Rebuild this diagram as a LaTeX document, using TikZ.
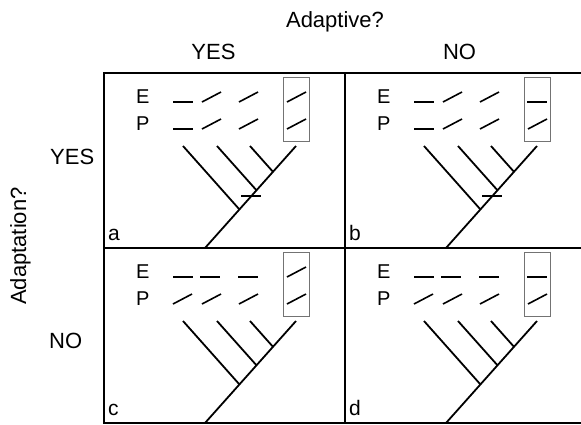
\documentclass[tikz,border=0pt]{standalone}
\usepackage{fontspec}
\setmainfont{Liberation Sans}

\begin{document}
\begin{tikzpicture}[x=1pt, y=-1pt,
    gridline/.style={line width=1.4pt},
    branch/.style={line width=1.8pt},
    trait/.style={line width=1.6pt},
    hlbox/.style={draw=black!55, line width=0.7pt},
    hdtext/.style={font=\fontsize{22}{26}\selectfont, inner sep=0pt, anchor=base},
    eptext/.style={font=\fontsize{20}{23}\selectfont, inner sep=0pt, anchor=base west},
    lettext/.style={font=\fontsize{21}{24}\selectfont, inner sep=0pt, anchor=base west}]
    \useasboundingbox (0,0) rectangle (581,424);

    \node[hdtext] (adaptive) at (335,27) {Adaptive?}; % column heading
    \node[hdtext] (yes-top) at (213.5,59) {YES};
    \node[hdtext] (no-top) at (459.5,59) {NO};
    \node[hdtext, rotate=90] (adaptation) at (26,246) {Adaptation?}; % row heading
    \node[hdtext, anchor=base west] (yes-left) at (50,164) {YES};
    \node[hdtext, anchor=base west] (no-left) at (49,348) {NO};

    \draw[gridline] (581,73) -- (104,73) -- (104,423) -- (581,423); % frame
    \draw[gridline] (345,73) -- (345,423);
    \draw[gridline] (104,248) -- (581,248);

    % panels: shift / letter / E row / P row / mark on stem
    \foreach \px/\py/\lab/\erow/\prow/\cutmark in {
        104/73/a/{69/20/0,98/19/-10,135/19/-10,183/19/-10}/{69/20/0,98/19/-10,135/19/-10,183/19/-10}/1,
        345/73/b/{69/20/0,98/19/-10,135/19/-10,182/20/0}/{69/20/0,98/19/-10,135/19/-10,183/19/-10}/1,
        104/248/c/{69/20/0,96/20/0,134/20/0,183/19/-10}/{69/19/-10,98/19/-10,135/19/-10,183/19/-10}/0,
        345/248/d/{69/20/0,96/20/0,134/20/0,182/20/0}/{69/19/-10,98/19/-10,135/19/-10,183/19/-10}/0}
    {
        \begin{scope}[shift={(\px,\py)}]
            \node[eptext] (E-\lab) at (32,30) {E};
            \node[eptext] (P-\lab) at (32,57) {P};
            \node[lettext] (tag-\lab) at (4,167) {\lab};
            \foreach \cx/\dx/\dy in \erow \draw[trait] (\cx,29) -- ++(\dx,\dy);
            \foreach \cx/\dx/\dy in \prow \draw[trait] (\cx,56) -- ++(\dx,\dy);
            \draw[hlbox] (179,4) rectangle (205,68); % focal taxon
            \coordinate (root-\lab) at (101,175);
            \coordinate (top-\lab) at (192,73);
            \draw[branch] (root-\lab) -- (top-\lab); % stem
            \foreach \lx/\ex/\ey in {79/135.4/136.4, 113/152.4/117.2, 146/168.9/98.7}
                \draw[branch] (\lx,73) -- (\ex,\ey); % side branches
            \ifnum\cutmark=1 \draw[branch] (137,123) -- (157,123); \fi
        \end{scope}
    }
\end{tikzpicture}
\end{document}
